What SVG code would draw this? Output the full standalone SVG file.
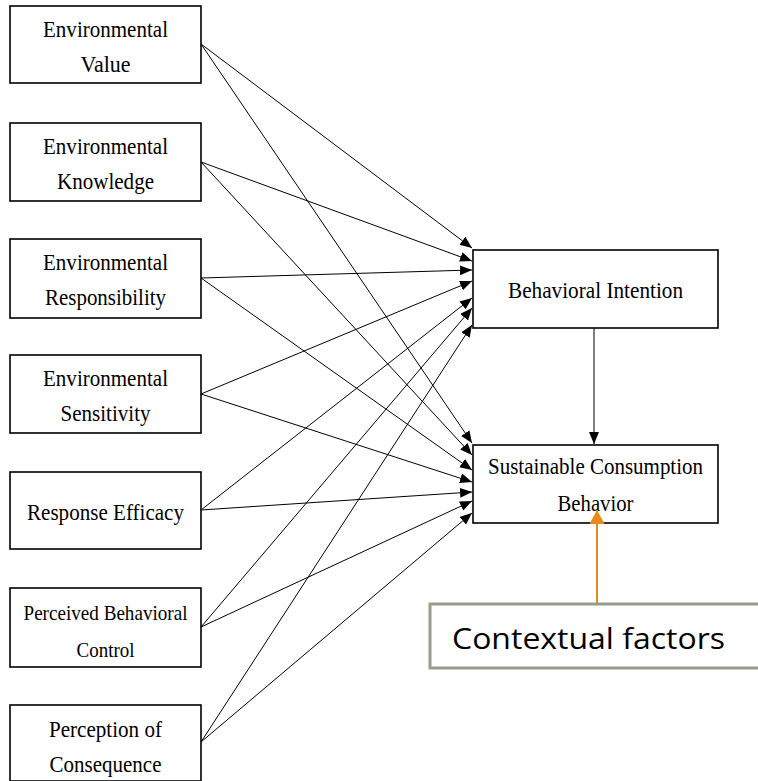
<svg xmlns="http://www.w3.org/2000/svg" width="758" height="781" viewBox="0 0 758 781">
<style>
.box{fill:#fff;stroke:#000;stroke-width:1.6}
.t{font-family:"Liberation Serif","Times New Roman",serif;font-size:23px;fill:#000;text-anchor:middle}
.ts{font-size:22px}
.c{stroke:#000;stroke-width:1;fill:none;marker-end:url(#ah)}
</style>
<defs>
<marker id="ah" markerUnits="userSpaceOnUse" markerWidth="13" markerHeight="11" refX="12" refY="5" orient="auto">
<path d="M0,0 L12,5 L0,10 z" fill="#000"/>
</marker>
<marker id="oh" markerUnits="userSpaceOnUse" markerWidth="15" markerHeight="16" refX="14" refY="7.5" orient="auto">
<path d="M0,0 L14,7.5 L0,15 z" fill="#E8891C"/>
</marker>
</defs>

<g id="n1"><rect class="box" x="10" y="6" width="191" height="77"/>
<text class="t" x="105.5" y="37" textLength="125" lengthAdjust="spacingAndGlyphs">Environmental</text>
<text class="t" x="105.5" y="72" textLength="50" lengthAdjust="spacingAndGlyphs">Value</text></g>

<g id="n2"><rect class="box" x="10" y="123" width="191" height="78"/>
<text class="t" x="105.5" y="154" textLength="125" lengthAdjust="spacingAndGlyphs">Environmental</text>
<text class="t" x="105.5" y="189" textLength="97" lengthAdjust="spacingAndGlyphs">Knowledge</text></g>

<g id="n3"><rect class="box" x="10" y="239" width="191" height="79"/>
<text class="t" x="105.5" y="270" textLength="125" lengthAdjust="spacingAndGlyphs">Environmental</text>
<text class="t" x="105.5" y="305" textLength="121" lengthAdjust="spacingAndGlyphs">Responsibility</text></g>

<g id="n4"><rect class="box" x="10" y="355" width="191" height="78"/>
<text class="t" x="105.5" y="386" textLength="125" lengthAdjust="spacingAndGlyphs">Environmental</text>
<text class="t" x="105.5" y="421" textLength="90" lengthAdjust="spacingAndGlyphs">Sensitivity</text></g>

<g id="n5"><rect class="box" x="10" y="472" width="191" height="77"/>
<text class="t" x="105.5" y="520" textLength="157" lengthAdjust="spacingAndGlyphs">Response Efficacy</text></g>

<g id="n6"><rect class="box" x="10" y="588" width="191" height="79"/>
<text class="t ts" x="105.5" y="620" textLength="164" lengthAdjust="spacingAndGlyphs">Perceived Behavioral</text>
<text class="t ts" x="105.5" y="657" textLength="58" lengthAdjust="spacingAndGlyphs">Control</text></g>

<g id="n7"><rect class="box" x="10" y="705" width="191" height="76"/>
<text class="t" x="105.5" y="737" textLength="113" lengthAdjust="spacingAndGlyphs">Perception of</text>
<text class="t" x="105.5" y="772" textLength="112" lengthAdjust="spacingAndGlyphs">Consequence</text></g>

<g id="bi"><rect class="box" x="473" y="250" width="245" height="78"/>
<text class="t" x="595.5" y="298" textLength="175" lengthAdjust="spacingAndGlyphs">Behavioral Intention</text></g>

<g id="scb"><rect class="box" x="473" y="445" width="245" height="78"/>
<text class="t" x="595.5" y="474" textLength="215" lengthAdjust="spacingAndGlyphs">Sustainable Consumption</text>
<text class="t" x="595.5" y="511" textLength="76" lengthAdjust="spacingAndGlyphs">Behavior</text></g>

<g id="ctx"><rect x="430" y="604" width="340" height="64" fill="#fff" stroke="#949F87" stroke-width="3"/>
<text x="452" y="649" font-family="'Open Sans','Noto Sans',sans-serif" font-size="30" fill="#000" textLength="273" lengthAdjust="spacingAndGlyphs">Contextual factors</text></g>

<g id="connectors">
<line class="c" x1="201" y1="44" x2="472" y2="248"/>
<line class="c" x1="201" y1="44" x2="472" y2="443"/>
<line class="c" x1="201" y1="162" x2="472" y2="261"/>
<line class="c" x1="201" y1="162" x2="472" y2="455"/>
<line class="c" x1="201" y1="278" x2="472" y2="270"/>
<line class="c" x1="201" y1="278" x2="472" y2="470"/>
<line class="c" x1="201" y1="394" x2="472" y2="281"/>
<line class="c" x1="201" y1="394" x2="472" y2="482"/>
<line class="c" x1="201" y1="510" x2="472" y2="298"/>
<line class="c" x1="201" y1="510" x2="472" y2="492"/>
<line class="c" x1="201" y1="627" x2="472" y2="308"/>
<line class="c" x1="201" y1="627" x2="472" y2="501"/>
<line class="c" x1="201" y1="742" x2="472" y2="325"/>
<line class="c" x1="201" y1="742" x2="472" y2="513"/>
<line class="c" x1="594" y1="328" x2="594" y2="444"/>
<line x1="597" y1="603" x2="597" y2="510" stroke="#E8891C" stroke-width="2" marker-end="url(#oh)"/>
</g>
</svg>
